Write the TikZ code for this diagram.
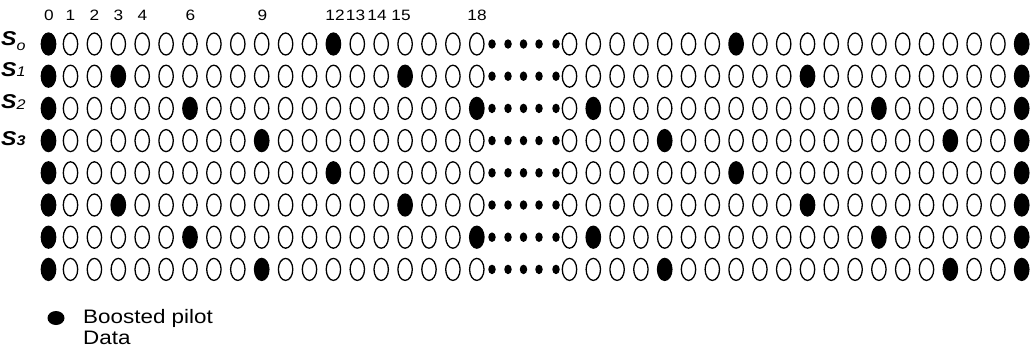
\documentclass[tikz,border=0pt]{standalone}
\usepackage{fontspec}
\setmainfont{Liberation Sans}[FakeStretch=1.15]
\usetikzlibrary{shapes.geometric}
\begin{document}
\begin{tikzpicture}[x=1pt,y=-1pt,
  dat/.style={ellipse,draw=black,line width=1.3pt,minimum width=14.4pt,minimum height=22pt,inner sep=0pt},
  pil/.style={dat,fill=black},
  gapdot/.style={ellipse,fill=black,minimum width=7.5pt,minimum height=9.5pt,inner sep=0pt},
  collbl/.style={inner sep=0pt,font=\fontsize{15}{15}\selectfont},
  rowlbl/.style={anchor=base west,inner sep=0pt,font=\fontsize{20}{20}\selectfont\bfseries\itshape},
  legtxt/.style={anchor=base west,inner sep=0pt,font=\fontsize{19.5}{19.5}\selectfont},
  legpil/.style={ellipse,fill=black,minimum width=17pt,minimum height=14pt,inner sep=0pt}]
\useasboundingbox (0,0) rectangle (1034,351);
% column labels
\foreach \t/\xx in {0/49,1/70.5,2/94.5,3/118.5,4/142.5,6/190.5,9/262.5,12/335,13/355.5,14/377,15/401,18/477}
  \node[collbl] (lab\t) at (\xx,15) {\t};
% grid
\foreach \r in {0,...,7}{
  \pgfmathsetmacro\yy{44+32.2*\r}
  \pgfmathtruncatemacro\p{mod(\r,4)}
  \foreach \c in {0,...,18}{
    \pgfmathtruncatemacro\f{(mod(\c,12)==3*\p)||(\c==0)}
    \pgfmathsetmacro\xx{\c==0 ? 48.5 : 70.5+23.9*(\c-1)}
    \def\st{dat}\ifnum\f=1 \def\st{pil}\fi
    \node[\st] (a-\r-\c) at (\xx,\yy) {};
  }
  \foreach \k/\xx in {1/492,2/508,3/523.5,4/539,5/556}
    \node[gapdot] (g-\r-\k) at (\xx,\yy) {};
  \foreach \j in {0,...,19}{
    \pgfmathtruncatemacro\f{(mod(\j+5,12)==3*\p)||(\j==19)}
    \pgfmathsetmacro\xx{569.5+23.8*\j}
    \def\st{dat}\ifnum\f=1 \def\st{pil}\fi
    \node[\st] (b-\r-\j) at (\xx,\yy) {};
  }
}
% row labels
\node[rowlbl] (s0) at (1,45.5) {S\raisebox{-4.5pt}{\fontsize{14}{14}\selectfont\mdseries o}};
\node[rowlbl] (s1) at (1,76) {S\raisebox{-0.5pt}{\fontsize{14}{14}\selectfont\mdseries 1}};
\node[rowlbl] (s2) at (1,108.5) {S\raisebox{-0.5pt}{\fontsize{14}{14}\selectfont\mdseries 2}};
\node[rowlbl] (s3) at (1,145) {S\raisebox{-0.5pt}{\fontsize{14}{14}\selectfont 3}};
% legend
\node[legpil] (legp) at (56,318) {};
\node[legtxt] (legt1) at (83,323.5) {Boosted pilot};
\node[legtxt] (legt2) at (83,344) {Data};
\end{tikzpicture}
\end{document}
